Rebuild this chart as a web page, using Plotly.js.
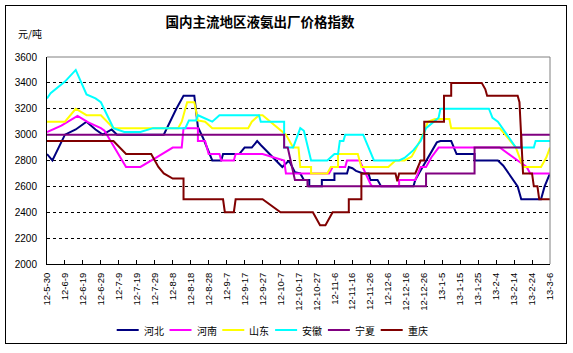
<!DOCTYPE html>
<html>
<head>
<meta charset="utf-8">
<script src="https://cdn.plot.ly/plotly-3.0.1.min.js"></script>
<style>
html,body{margin:0;padding:0;background:#fff;}
#wrap{position:relative;width:573px;height:353px;}
#chart{width:573px;height:353px;}
#frame{position:absolute;left:5px;top:5px;width:560px;height:337px;border:1px solid #000;pointer-events:none;}
</style>
</head>
<body>
<div id="wrap"><div id="chart"></div><div id="frame"></div></div>
<script>
// ---- tick labels (category dates every 10 days) ----
const tickDates = ['2012-05-30','2012-06-09','2012-06-19','2012-06-29','2012-07-09','2012-07-19','2012-07-29','2012-08-08','2012-08-18','2012-08-28','2012-09-07','2012-09-17','2012-09-27','2012-10-07','2012-10-17','2012-10-27','2012-11-06','2012-11-16','2012-11-26','2012-12-06','2012-12-16','2012-12-26','2013-01-05','2013-01-15','2013-01-25','2013-02-04','2013-02-14','2013-02-24','2013-03-06'];
const tickLabels = ['12-5-30','12-6-9','12-6-19','12-6-29','12-7-9','12-7-19','12-7-29','12-8-8','12-8-18','12-8-28','12-9-7','12-9-17','12-9-27','12-10-7','12-10-17','12-10-27','12-11-6','12-11-16','12-11-26','12-12-6','12-12-16','12-12-26','13-1-5','13-1-15','13-1-25','13-2-4','13-2-14','13-2-24','13-3-6'];

const seriesNames = ['河北','河南','山东','安徽','宁夏','重庆'];
const seriesColors = ['#000080','#FF00FF','#FFFF00','#00FFFF','#800080','#800000'];

// 河北
const hebeiDates = ['2012-05-30','2012-06-02','2012-06-09','2012-06-15','2012-06-21','2012-06-26','2012-06-30','2012-07-05','2012-07-08','2012-08-03','2012-08-10','2012-08-14','2012-08-20','2012-08-22','2012-08-25','2012-08-28','2012-08-30','2012-09-04','2012-09-05','2012-09-14','2012-09-17','2012-09-21','2012-09-24','2012-09-26','2012-10-08','2012-10-11','2012-10-12','2012-10-15','2012-10-18','2012-10-20','2012-10-23','2012-10-23','2012-10-30','2012-10-30','2012-11-06','2012-11-06','2012-11-13','2012-11-14','2012-11-16','2012-11-18','2012-11-22','2012-11-25','2012-11-26','2012-11-30','2012-12-02','2012-12-20','2012-12-21','2012-12-23','2012-12-27','2013-01-02','2013-01-04','2013-01-10','2013-01-13','2013-01-23','2013-01-23','2013-02-05','2013-02-08','2013-02-16','2013-02-18','2013-03-01','2013-03-03','2013-03-06'];
const hebeiValues = [2850,2800,3000,3040,3100,3040,3000,3040,3000,3000,3200,3300,3300,3060,2970,2870,2800,2800,2850,2850,2900,2900,2950,2920,2750,2790,2790,2710,2700,2650,2650,2600,2600,2650,2650,2700,2700,2750,2740,2720,2700,2700,2650,2650,2600,2600,2650,2700,2800,2940,2950,2950,2850,2850,2800,2800,2760,2600,2500,2500,2600,2700];

// 河南
const henanDates = ['2012-05-30','2012-06-07','2012-06-16','2012-06-22','2012-06-29','2012-07-01','2012-07-13','2012-07-21','2012-07-30','2012-08-08','2012-08-13','2012-08-14','2012-08-22','2012-08-22','2012-08-26','2012-08-28','2012-09-03','2012-09-04','2012-09-11','2012-09-12','2012-09-27','2012-10-09','2012-10-10','2012-11-03','2012-11-05','2012-11-12','2012-11-13','2012-11-20','2012-11-26','2012-11-27','2012-12-12','2012-12-12','2012-12-21','2012-12-24','2012-12-27','2012-12-30','2013-01-03','2013-02-06','2013-02-16','2013-02-21','2013-02-23','2013-03-06'];
const henanValues = [3020,3070,3145,3095,3050,3030,2750,2750,2825,2900,2900,3050,3050,2950,2950,2850,2850,2800,2800,2850,2850,2800,2700,2700,2750,2750,2800,2800,2620,2600,2600,2650,2650,2750,2750,2825,2900,2900,2800,2750,2700,2700];

// 山东
const shandongDates = ['2012-05-30','2012-06-09','2012-06-15','2012-06-21','2012-06-29','2012-07-06','2012-08-11','2012-08-13','2012-08-16','2012-08-20','2012-08-22','2012-08-26','2012-08-30','2012-09-19','2012-09-21','2012-09-25','2012-09-27','2012-10-10','2012-10-14','2012-10-17','2012-10-18','2012-10-24','2012-10-24','2012-11-02','2012-11-04','2012-11-08','2012-11-08','2012-11-19','2012-11-21','2012-12-06','2012-12-10','2012-12-15','2012-12-19','2012-12-21','2012-12-26','2012-12-28','2013-01-01','2013-01-09','2013-01-10','2013-02-06','2013-02-15','2013-02-19','2013-03-01','2013-03-04','2013-03-06'];
const shandongValues = [3100,3100,3200,3150,3150,3050,3050,3100,3250,3250,3110,3100,3050,3050,3100,3150,3150,3000,2900,2900,2750,2750,2700,2700,2750,2750,2850,2850,2750,2750,2800,2800,2830,2880,3020,3100,3120,3120,3050,3050,2900,2750,2750,2825,2900];

// 安徽
const anhuiDates = ['2012-05-30','2012-06-01','2012-06-09','2012-06-15','2012-06-21','2012-06-26','2012-06-29','2012-07-06','2012-07-12','2012-07-21','2012-07-28','2012-08-15','2012-08-17','2012-08-21','2012-08-22','2012-08-26','2012-08-30','2012-09-03','2012-09-25','2012-09-26','2012-10-09','2012-10-09','2012-10-14','2012-10-18','2012-10-20','2012-10-24','2012-11-02','2012-11-06','2012-11-08','2012-11-09','2012-11-11','2012-11-12','2012-11-22','2012-11-28','2012-12-12','2012-12-15','2012-12-20','2012-12-24','2012-12-27','2013-01-03','2013-01-04','2013-01-31','2013-02-02','2013-02-05','2013-02-15','2013-02-25','2013-02-26','2013-03-06'];
const anhuiValues = [3280,3320,3410,3500,3310,3280,3250,3050,3020,3020,3050,3050,3110,3110,3150,3125,3100,3150,3150,3100,3100,2900,2900,3050,3030,2800,2800,2850,2850,2950,2950,3000,3000,2800,2800,2820,2880,2950,3050,3130,3200,3200,3130,3100,2900,2900,2950,2950];

// 宁夏
const ningxiaDates = ['2012-05-30','2012-10-09','2012-10-09','2012-10-11','2012-10-15','2012-10-22','2012-10-22','2012-12-27','2012-12-27','2013-01-23','2013-01-23','2013-02-18','2013-02-18','2013-03-06'];
const ningxiaValues = [3000,3000,2900,2900,2650,2650,2600,2600,2700,2700,2900,2900,3000,3000];

// 重庆
const chongqingDates = ['2012-05-30','2012-07-06','2012-07-13','2012-07-27','2012-07-31','2012-08-03','2012-08-08','2012-08-14','2012-08-14','2012-09-05','2012-09-06','2012-09-11','2012-09-12','2012-09-27','2012-10-07','2012-10-25','2012-10-29','2012-11-01','2012-11-05','2012-11-14','2012-11-14','2012-11-21','2012-11-21','2012-12-10','2012-12-11','2012-12-12','2012-12-21','2012-12-24','2012-12-26','2012-12-26','2013-01-06','2013-01-06','2013-01-10','2013-01-10','2013-01-27','2013-01-29','2013-01-30','2013-02-16','2013-02-17','2013-02-19','2013-02-24','2013-02-25','2013-02-27','2013-02-28','2013-03-06'];
const chongqingValues = [2950,2950,2850,2850,2750,2700,2660,2660,2500,2500,2400,2400,2500,2500,2400,2400,2300,2300,2400,2400,2500,2500,2700,2700,2640,2700,2700,2800,2800,3100,3100,3300,3300,3400,3400,3350,3300,3300,3250,2700,2700,2600,2600,2500,2500];

const allDates = [hebeiDates, henanDates, shandongDates, anhuiDates, ningxiaDates, chongqingDates];
const allValues = [hebeiValues, henanValues, shandongValues, anhuiValues, ningxiaValues, chongqingValues];

const CJK = '"Noto Sans CJK SC", "Noto Sans", sans-serif';
const ARIAL = '"Liberation Sans", Arial, sans-serif';

const traces = seriesNames.map((name, i) => ({
  type: 'scatter', mode: 'lines', name: name,
  x: allDates[i], y: allValues[i],
  line: {color: seriesColors[i], width: 2},
  showlegend: false, hoverinfo: 'x+y+name'
}));

// plot area geometry (px)
const PL = 47, PR = 550, PT = 57, PB = 264;
const PW = PR - PL, PH = PB - PT;
const px2x = p => (p - PL) / PW;
const py2y = p => (PB - p) / PH;

// manual legend (built from series names/colours)
const shapes = [
  {type:'line', xref:'paper', yref:'paper', x0:0, x1:1, y0:1, y1:1, line:{color:'#808080', width:1}, layer:'above'},
  {type:'line', xref:'paper', yref:'paper', x0:1, x1:1, y0:0, y1:1, line:{color:'#808080', width:1}, layer:'above'}
];
const annotations = [
  {text:'元/吨', xref:'paper', yref:'paper', x:px2x(30), y:py2y(34), xanchor:'center', yanchor:'middle', showarrow:false, font:{family:CJK, size:10, color:'#000'}}
];
const legStart = 116.7, legStep = 52.8, legY = 330;
seriesNames.forEach((name, i) => {
  const lx = legStart + i * legStep;
  shapes.push({type:'line', xref:'paper', yref:'paper', x0:px2x(lx), x1:px2x(lx + 22), y0:py2y(legY), y1:py2y(legY), line:{color:seriesColors[i], width:2}});
  annotations.push({text:name, xref:'paper', yref:'paper', x:px2x(lx + 25), y:py2y(legY), xanchor:'left', yanchor:'middle', showarrow:false, font:{family:CJK, size:10, color:'#000'}});
});

const layout = {
  width: 573, height: 353,
  margin: {l: PL, r: 573 - PR, t: PT, b: 353 - PB, pad: 0},
  paper_bgcolor: '#fff', plot_bgcolor: '#fff',
  title: {text: '<b>国内主流地区液氨出厂价格指数</b>', font: {family: CJK, size: 13.5, color: '#000'}, xref: 'container', yref: 'container', x: 260/573, xanchor: 'center', y: 1 - 22.5/353, yanchor: 'middle'},
  xaxis: {
    type: 'date', range: ['2012-05-30', '2013-03-06'],
    tickmode: 'array', tickvals: tickDates, ticktext: tickLabels, tickangle: -90,
    ticks: 'inside', ticklen: 4, tickcolor: '#000', tickwidth: 1,
    showline: true, linecolor: '#000', linewidth: 1, showgrid: false, zeroline: false,
    tickfont: {family: ARIAL, size: 9.5, color: '#000'}, ticklabelstandoff: 4
  },
  yaxis: {
    range: [2000, 3600], tickmode: 'linear', tick0: 2000, dtick: 200,
    showline: true, linecolor: '#000', linewidth: 1, ticks: '',
    showgrid: true, gridcolor: '#000', gridwidth: 1, griddash: '3px,3px', zeroline: false,
    tickfont: {family: ARIAL, size: 10, color: '#000'}, ticklabelstandoff: 7
  },
  shapes: shapes,
  annotations: annotations,
  showlegend: false
};

Plotly.newPlot('chart', traces, layout, {displayModeBar: false, staticPlot: true});
</script>
</body>
</html>
